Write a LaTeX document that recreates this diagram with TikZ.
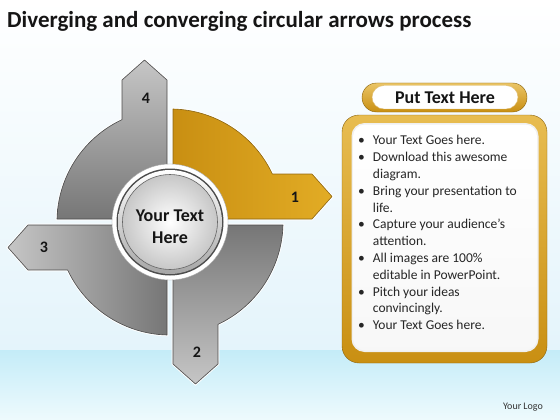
\documentclass[tikz,border=0pt]{standalone}
\usepackage{fontspec}
\setmainfont{Carlito}

\definecolor{skyTop}{HTML}{FFFFFF}
\definecolor{skyMid}{HTML}{E4F4FB}
\definecolor{seaTop}{HTML}{C4ECF8}
\definecolor{seaBot}{HTML}{EEFAFD}
\definecolor{goldDark}{HTML}{C98F12}
\definecolor{goldLight}{HTML}{E2AC25}
\definecolor{goldEdge}{HTML}{8A6410}
\definecolor{greyDark}{HTML}{767676}
\definecolor{greyLight}{HTML}{C6C6C6}
\definecolor{greyEdge}{HTML}{4A4A4A}
\definecolor{inkText}{HTML}{151515}

\tikzset{
  quadedge/.style={preaction={draw=white, line width=2.6pt}, line width=0.6pt, line join=round},
  quadgold/.style={quadedge, left color=goldDark, right color=goldLight, draw=goldEdge},
  quadS/.style={quadedge, top color=greyDark, bottom color=greyLight, draw=greyEdge},
  quadW/.style={quadedge, left color=greyLight, right color=greyDark, draw=greyEdge},
  quadN/.style={quadedge, top color=greyLight, bottom color=greyDark, draw=greyEdge},
  numlabel/.style={font=\fontsize{16}{18}\selectfont\bfseries, text=inkText, inner sep=0.75pt}
}

\begin{document}
\begin{tikzpicture}[x=1pt,y=1pt,yscale=-1,xscale=1]
		\useasboundingbox (0,0) rectangle (560,420);

		% Background: pale sky above, light sea band below
		\shade[top color=skyTop, bottom color=skyMid] (0,0) rectangle (560,350);
		\shade[top color=seaTop, bottom color=seaBot] (0,350) rectangle (560,420);

		% Title
		\node[anchor=west, inner sep=0pt, text=inkText, font=\fontsize{23}{26}\selectfont\bfseries] (title) at (7,21) {Diverging and converging circular arrows process};

		% The four quarter rings, each with its arrow (1 gold, 2 3 4 grey)
		\foreach \ang/\look in {0/quadgold, -90/quadS, 180/quadW, 90/quadN}
			\path[\look, shift={(170,222)}, yscale=-1, rotate=\ang]
			(3,113) arc[start angle=88.5, end angle=25.1, radius=113] -- (142,48) -- (162,25.5) -- (142,3) -- (3,3) -- cycle;

		% Numbers on the arrows
		\node[numlabel] (num1) at (295,197) {1};
		\node[numlabel] (num2) at (197,352) {2};
		\node[numlabel] (num3) at (44,247) {3};
		\node[numlabel] (num4) at (146,98) {4};

		% Centre disc: white rim, dark line, silver ring, inner face
		\fill[white, draw=black!35, line width=0.4pt] (170,222) circle (58);
		\fill[black!70] (170,222) circle (53.5);
		\shade[top color=white, bottom color=black!35] (170,222) circle (52);
		\shade[inner color=white, outer color=black!22, draw=black!60, line width=0.6pt] (170,222) circle (47.5);
		\node[align=center, text=inkText, font=\fontsize{18}{21.7}\selectfont\bfseries] (centre) at (170,227) {Your Text\\Here};

		% Header pill
		\shade[top color=goldLight!70!white, bottom color=goldDark, draw=goldEdge, line width=0.4pt, rounded corners=14.5] (362,83) rectangle (527,112);
		\fill[white, draw=goldDark!60, line width=0.4pt, rounded corners=12] (372,85.5) rectangle (518,109);
		\node[text=inkText, font=\fontsize{18}{20}\selectfont\bfseries] (header) at (445,98) {Put Text Here};

		% Text box with gold frame
		\shade[top color=goldLight!80!white, bottom color=goldDark, draw=goldEdge, line width=0.4pt, rounded corners=17] (342,115) rectangle (547,363);
		\fill[black!6, rounded corners=13] (351.5,123) rectangle (538.5,352);
		\shade[top color=white, bottom color=black!3, rounded corners=12] (353,124.5) rectangle (537,350.5);
		\node[anchor=north west, inner sep=0pt, text=black!85, font=\fontsize{13.5}{16.8}\selectfont] (bullets) at (358,133)
		{\begin{tabular}{@{}l@{\hspace{8pt}}l@{}}
			\textbullet & Your Text Goes here.\\
			\textbullet & Download this awesome\\
			 & diagram.\\
			\textbullet & Bring your presentation to\\
			 & life.\\
			\textbullet & Capture your audience’s\\
			 & attention.\\
			\textbullet & All images are 100\%\\
			 & editable in PowerPoint.\\
			\textbullet & Pitch your ideas\\
			 & convincingly.\\
			\textbullet & Your Text Goes here.
		\end{tabular}};

		% Logo text
		\node[text=black!80, font=\fontsize{10}{12}\selectfont] (logo) at (523,407) {Your Logo};
	\end{tikzpicture}
\end{document}
